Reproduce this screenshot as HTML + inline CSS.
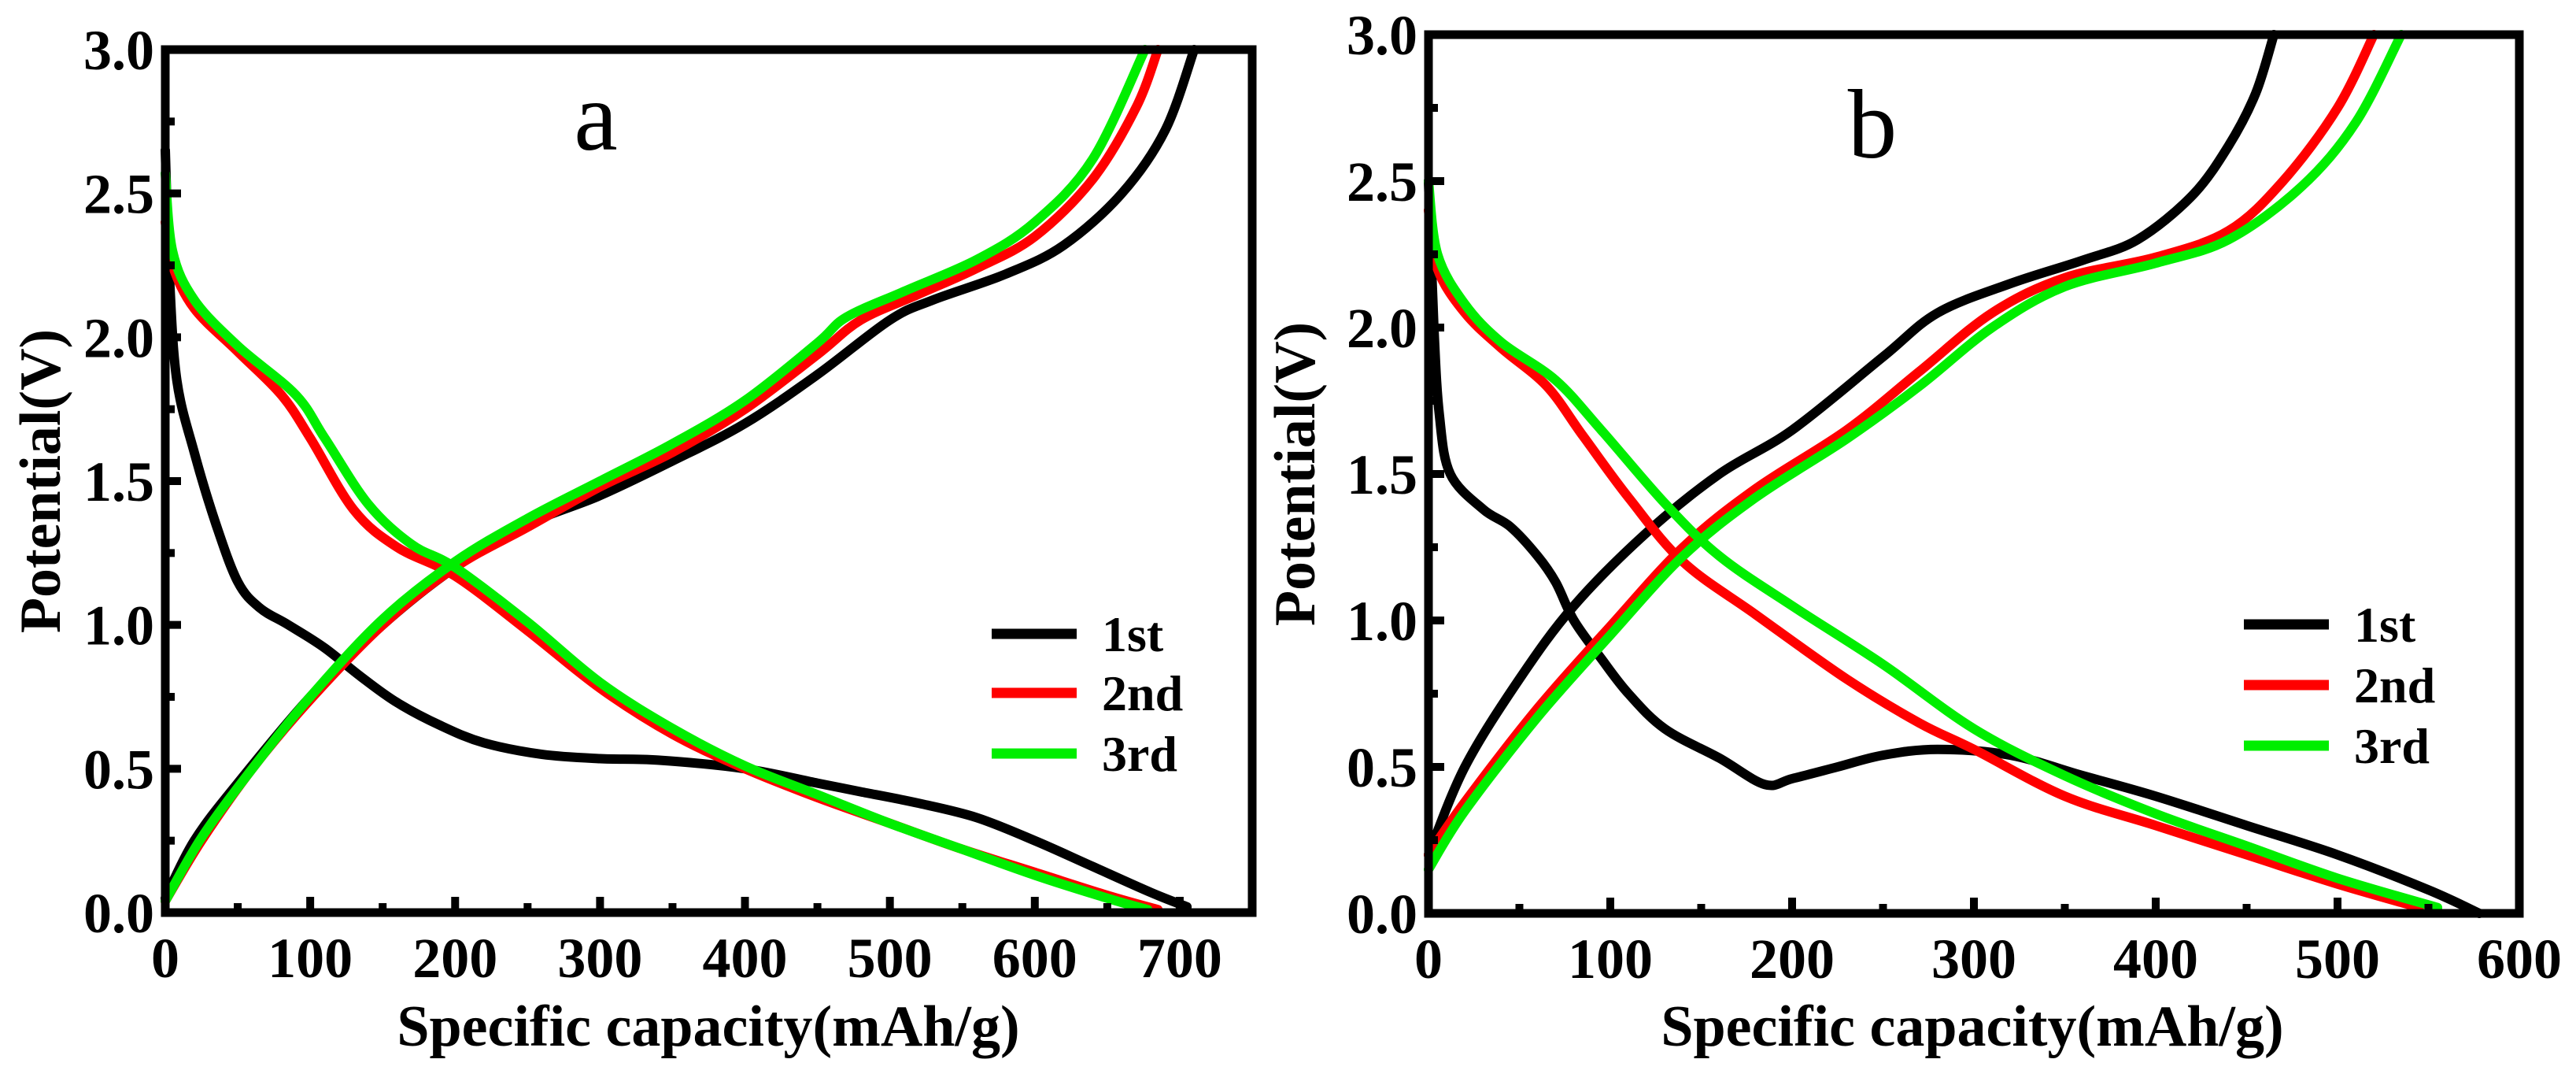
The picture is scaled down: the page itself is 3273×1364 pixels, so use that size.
<!DOCTYPE html>
<html><head><meta charset="utf-8"><style>
html,body{margin:0;padding:0;background:#fff}
svg{display:block}
text{font-family:"Liberation Serif",serif;fill:#000}
.tk{font-weight:bold;font-size:72px}
.ti{font-weight:bold;font-size:74px}
.lg{font-weight:bold;font-size:64px}
</style></head><body>
<svg id="svg" width="3273" height="1364" viewBox="0 0 3273 1364" xmlns="http://www.w3.org/2000/svg"></svg>
<script>
// Panel a data
const aXTicks=[0,100,200,300,400,500,600,700];
const aYTicks=["0.0","0.5","1.0","1.5","2.0","2.5","3.0"];
const a1dX=[0,3,8,20,35,50,65,85,110,135,160,190,220,260,300,340,400,450,480,520,560,600,640,680,705];
const a1dY=[2.65,2.2,1.85,1.6,1.35,1.15,1.06,1.0,0.92,0.82,0.73,0.65,0.59,0.55,0.535,0.53,0.5,0.45,0.42,0.38,0.33,0.25,0.16,0.07,0.02];
const a1cX=[0,20,50,100,150,200,250,300,350,400,450,500,530,580,620,660,690,710];
const a1cY=[0.05,0.25,0.45,0.75,1.0,1.2,1.35,1.45,1.57,1.7,1.87,2.06,2.13,2.22,2.32,2.5,2.72,3.0];
const a2dX=[0,5,20,50,80,100,130,160,200,250,300,350,400,450,500,550,600,650,685];
const a2dY=[2.4,2.25,2.1,1.95,1.8,1.65,1.4,1.27,1.17,0.98,0.78,0.62,0.5,0.4,0.31,0.22,0.14,0.06,0.01];
const a2cX=[0,25,60,100,150,200,250,300,350,400,450,480,520,560,600,640,670,685];
const a2cY=[0.04,0.25,0.5,0.74,1.0,1.2,1.34,1.48,1.6,1.75,1.94,2.06,2.15,2.24,2.35,2.55,2.8,3.0];
const a3dX=[0,5,20,50,90,110,140,170,200,250,300,350,400,450,500,550,600,650,678];
const a3dY=[2.57,2.3,2.13,1.97,1.8,1.65,1.42,1.28,1.2,1.01,0.8,0.64,0.51,0.41,0.31,0.22,0.13,0.05,0.01];
const a3cX=[0,25,60,100,150,200,250,300,350,400,450,470,510,560,600,640,676];
const a3cY=[0.04,0.26,0.5,0.75,1.02,1.22,1.37,1.5,1.63,1.78,1.98,2.07,2.16,2.27,2.4,2.62,3.0];
// Panel b data
const bXTicks=[0,100,200,300,400,500,600];
const bYTicks=["0.0","0.5","1.0","1.5","2.0","2.5","3.0"];
const b1dX=[0,3,6,12,30,45,60,70,80,95,110,130,160,185,200,225,250,280,320,360,400,450,500,550,578];
const b1dY=[2.5,2.0,1.7,1.5,1.38,1.32,1.22,1.13,1.0,0.87,0.75,0.63,0.53,0.44,0.46,0.5,0.54,0.56,0.54,0.47,0.4,0.3,0.2,0.08,0.0];
const b1cX=[0,20,50,80,120,160,200,250,280,320,360,390,420,440,455,465];
const b1cY=[0.2,0.5,0.8,1.05,1.3,1.5,1.65,1.9,2.05,2.15,2.23,2.3,2.45,2.62,2.8,3.0];
const b2dX=[0,5,20,40,65,85,110,140,180,230,270,300,350,400,450,500,545];
const b2dY=[2.4,2.2,2.05,1.93,1.8,1.63,1.42,1.2,1.02,0.8,0.65,0.56,0.4,0.3,0.2,0.1,0.02];
const b2cX=[0,20,60,100,140,180,230,270,310,350,400,440,470,500,520];
const b2cY=[0.2,0.38,0.7,0.98,1.25,1.45,1.65,1.85,2.05,2.17,2.24,2.33,2.5,2.75,3.0];
const b3dX=[0,5,20,40,70,95,130,160,200,250,300,350,400,450,500,555];
const b3dY=[2.5,2.25,2.08,1.95,1.82,1.65,1.4,1.22,1.05,0.85,0.63,0.47,0.34,0.23,0.12,0.02];
const b3cX=[0,20,60,100,140,180,230,270,310,350,400,440,480,510,535];
const b3cY=[0.15,0.35,0.67,0.95,1.22,1.42,1.62,1.8,2.0,2.14,2.22,2.3,2.48,2.7,3.0];
const legendLabels=["1st","2nd","3rd"];
const colors=["#000000","#ff0000","#00ee00"];

const NS="http://www.w3.org/2000/svg";
const svg=document.getElementById('svg');
function mk(tag,attrs,parent){const e=document.createElementNS(NS,tag);for(const k in attrs)e.setAttribute(k,attrs[k]);(parent||svg).appendChild(e);return e;}

function smooth(pts){
  let d="M"+pts[0][0]+","+pts[0][1];
  for(let i=0;i<pts.length-1;i++){
    const p0=pts[Math.max(0,i-1)],p1=pts[i],p2=pts[i+1],p3=pts[Math.min(pts.length-1,i+2)];
    const c1x=p1[0]+(p2[0]-p0[0])/6,c1y=p1[1]+(p2[1]-p0[1])/6;
    const c2x=p2[0]-(p3[0]-p1[0])/6,c2y=p2[1]-(p3[1]-p1[1])/6;
    d+=" C"+c1x.toFixed(1)+","+c1y.toFixed(1)+" "+c2x.toFixed(1)+","+c2y.toFixed(1)+" "+p2[0].toFixed(1)+","+p2[1].toFixed(1);
  }
  return d;
}

function panel(cfg){
  const g=mk('g',{});
  
  
  const sx=v=>cfg.x0+(v-cfg.xmin)/(cfg.xmax-cfg.xmin)*(cfg.x1-cfg.x0);
  const sy=v=>cfg.y0-(v/3)*(cfg.y0-cfg.y1);
  cfg.series.forEach((s,i)=>{
    const pts=s.x.map((xv,j)=>[sx(xv),sy(s.y[j])]);
    const p=mk('path',{d:smooth(pts),fill:'none',stroke:colors[s.c],'stroke-width':12,'stroke-linejoin':'round','stroke-linecap':'round'},g);
    
    
  });
  const fr=mk('rect',{x:cfg.x0,y:cfg.y1,width:cfg.xr-cfg.x0,height:cfg.y0-cfg.y1,fill:'none',stroke:'#000','stroke-width':11},g);
  
  
  cfg.xt.forEach((t,i)=>{
    const X=sx(t);
    mk('line',{x1:X,x2:X,y1:cfg.y0,y2:cfg.y0-20,stroke:'#000','stroke-width':10},g);
    if(i<cfg.xt.length-1||cfg.minorLast){const Xm=sx(t+50);if(Xm<cfg.xr-5)mk('line',{x1:Xm,x2:Xm,y1:cfg.y0,y2:cfg.y0-12,stroke:'#000','stroke-width':10},g);}
    const tx=mk('text',{x:X,y:cfg.y0+82,'text-anchor':'middle',class:'tk'},g);
    tx.textContent=t;
    
    
  });
  cfg.yt.forEach((t,i)=>{
    const Y=sy(parseFloat(t));
    mk('line',{x1:cfg.x0,x2:cfg.x0+20,y1:Y,y2:Y,stroke:'#000','stroke-width':10},g);
    if(i<cfg.yt.length-1){const Ym=sy(parseFloat(t)+0.25);mk('line',{x1:cfg.x0,x2:cfg.x0+12,y1:Ym,y2:Ym,stroke:'#000','stroke-width':10},g);}
    const tx=mk('text',{x:cfg.x0-14,y:Y+25,'text-anchor':'end',class:'tk'},g);
    tx.textContent=t;
    
    
  });
  const xt=mk('text',{x:cfg.xtx,y:1328,'text-anchor':'middle',class:'ti'},g);
  xt.textContent='Specific capacity(mAh/g)';
  
  
  const yt=mk('text',{x:0,y:0,'text-anchor':'middle',class:'ti',transform:'translate('+(cfg.ytx+24)+','+((cfg.y0+cfg.y1)/2)+') rotate(-90)'},g);
  yt.textContent='Potential(V)';
  
  
  const lt=mk('text',{x:cfg.lx,y:cfg.ly,'text-anchor':'middle','font-size':125},g);
  lt.textContent=cfg.letter;
  
  
  legendLabels.forEach((l,i)=>{
    const Y=cfg.legY[i];
    const ln=mk('line',{x1:cfg.legX,x2:cfg.legX+108,y1:Y,y2:Y,stroke:colors[i],'stroke-width':13},g);
    
    
    const t=mk('text',{x:cfg.legX+140,y:Y+22,class:'lg'},g);
    t.textContent=l;
    
    
  });
}

panel({name:'panel-a',x0:210,x1:1591,xr:1591,xmin:0,xmax:750,y0:1159,y1:63,xt:aXTicks,yt:aYTicks,minorLast:true,
  xtx:900,ytx:52,lx:757,ly:190,letter:'a',legX:1260,legY:[805,880,957],
  series:[{x:a1dX,y:a1dY,c:0,n:'series-1st-discharge'},{x:a1cX,y:a1cY,c:0,n:'series-1st-charge'},
          {x:a2dX,y:a2dY,c:1,n:'series-2nd-discharge'},{x:a2cX,y:a2cY,c:1,n:'series-2nd-charge'},
          {x:a3dX,y:a3dY,c:2,n:'series-3rd-discharge'},{x:a3cX,y:a3cY,c:2,n:'series-3rd-charge'}]});
panel({name:'panel-b',x0:1815,x1:3201,xr:3201,xmin:0,xmax:600,y0:1160,y1:44,xt:bXTicks,yt:bYTicks,minorLast:false,
  xtx:2506,ytx:1646,lx:2379,ly:200,letter:'b',legX:2851,legY:[793,870,947],
  series:[{x:b1dX,y:b1dY,c:0,n:'series-1st-discharge'},{x:b1cX,y:b1cY,c:0,n:'series-1st-charge'},
          {x:b2dX,y:b2dY,c:1,n:'series-2nd-discharge'},{x:b2cX,y:b2cY,c:1,n:'series-2nd-charge'},
          {x:b3dX,y:b3dY,c:2,n:'series-3rd-discharge'},{x:b3cX,y:b3cY,c:2,n:'series-3rd-charge'}]});
</script>
</body></html>
